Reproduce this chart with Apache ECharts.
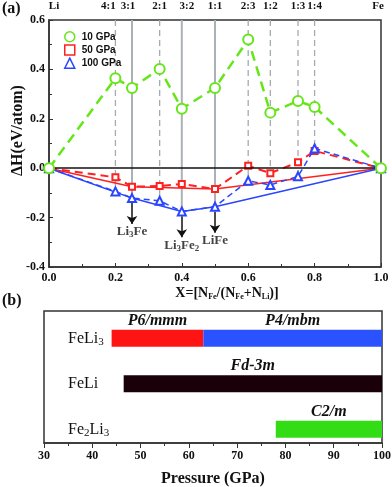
<!DOCTYPE html>
<html><head><meta charset="utf-8">
<script src="https://cdn.jsdelivr.net/npm/echarts@6/dist/echarts.min.js"></script>
<style>html,body{margin:0;padding:0;background:#fff}#c{width:392px;height:487px}</style>
</head><body><div id="c"></div>
<script>
// ---------------- data : panel (a) ----------------
const compX     = [0, 0.2, 0.25, 1/3, 0.4, 0.5, 0.6, 2/3, 0.75, 0.8, 1];
const topLabels = ['Li','4:1','3:1','2:1','3:2','1:1','2:3','1:2','1:3','1:4','Fe'];
const dH10      = [0, 0.364, 0.325, 0.402, 0.241, 0.325, 0.521, 0.225, 0.272, 0.248, 0];
const dH50      = [0, -0.037, -0.075, -0.072, -0.064, -0.084, 0.010, -0.020, 0.024, 0.070, 0];
const dH100     = [0, -0.094, -0.121, -0.132, -0.175, -0.156, -0.051, -0.068, -0.033, 0.080, 0];
const hull50Idx  = [0, 2, 5, 10];
const hull100Idx = [0, 2, 4, 5, 10];
const stableIdx   = [2, 4, 5];
const stableNames = ['Li3Fe', 'Li3Fe2', 'LiFe'];
const pressures   = ['10 GPa', '50 GPa', '100 GPa'];

// ---------------- data : panel (b) ----------------
const compounds = ['FeLi3', 'FeLi', 'Fe2Li3'];
const phaseName = ['P6/mmm', 'P4/mbm', 'Fd-3m', 'C2/m'];
const phaseRow  = [0, 0, 1, 2];
const phaseFrom = [44, 63, 46.5, 78];
const phaseTo   = [63, 100, 100, 100];

// ---------------- styles ----------------
const SERIF = 'Liberation Serif';
const SANS  = 'Liberation Sans';
const GREEN = '#66e61a', RED = '#ff2020', BLUE = '#2a45ff';
const phaseColors = ['#ff1414', '#2a52ff', '#1a0008', '#33dd15'];
const GREY = '#a4acb0', GREY_SOLID = '#aab2b6';

function subRich(str) {
  return str.split(/(\d+)/).filter(Boolean)
    .map(p => /^\d+$/.test(p) ? '{s|' + p + '}' : '{n|' + p + '}').join('');
}
const near = (a, b) => Math.abs(a - b) < 1e-6;
const fmt1 = v => (Math.abs(v) < 1e-9 ? 0 : v).toFixed(1);

// reference lines: [x, top, bottom, solid?]
const solidSet = new Set(stableIdx);
const refData = [];
for (let i = 1; i < compX.length - 1; i++) {
  refData.push([compX[i], 0.6, Math.min(dH50[i], dH100[i]), solidSet.has(i) ? 1 : 0]);
}
const arrows = stableIdx.map(i => [
  { coord: [compX[i], dH100[i] - 0.02] },
  { coord: [compX[i], dH100[i] - 0.105] }
]);

const topStyle = { 0: 'r5', 1: 'l7', 2: 'l4', 4: 'r5', 10: 'l3' };
const lab = (size, weight) => ({ fontFamily: SERIF, fontWeight: weight || 'bold', fontSize: size, color: '#111' });

const option = {
  animation: false,
  textStyle: { fontFamily: SERIF },
  graphic: [
    { type: 'text', left: 2, top: 1, style: { text: '(a)', fontFamily: SERIF, fontWeight: 'bold', fontSize: 16, fill: '#111' } },
    { type: 'text', left: 2, top: 293, style: { text: '(b)', fontFamily: SERIF, fontWeight: 'bold', fontSize: 16, fill: '#111' } }
  ],
  legend: {
    orient: 'vertical', left: 59, top: 26, itemWidth: 10, itemHeight: 10, itemGap: 1.7,
    textStyle: { fontFamily: SANS, fontWeight: 'bold', fontSize: 10, color: '#111', padding: [0, 0, 0, 2] },
    data: [
      { name: pressures[0], icon: 'circle', itemStyle: { color: '#fff', borderColor: GREEN, borderWidth: 1.5 } },
      { name: pressures[1], icon: 'rect', itemStyle: { color: '#fff', borderColor: RED, borderWidth: 1.5 } },
      { name: pressures[2], icon: 'triangle', itemStyle: { color: '#fff', borderColor: BLUE, borderWidth: 1.5 } }
    ],
    selectedMode: false
  },
  grid: [
    { left: 49, right: 11, top: 20, bottom: 220, show: true, borderColor: '#333', borderWidth: 1.5, outerBoundsMode: 'none' },
    { left: 44, right: 10, top: 311, bottom: 44, show: true, borderColor: '#333', borderWidth: 1.5, outerBoundsMode: 'none' }
  ],
  xAxis: [
    {
      type: 'value', gridIndex: 0, min: 0, max: 1, interval: 0.2,
      name: '{b|X=[N}{s|Fe}{b|/(N}{s|Fe}{b|+N}{s|Li}{b|)]}',
      nameLocation: 'middle', nameGap: 18, nameMoveOverlap: false,
      nameTextStyle: {
        padding: [0, 0, 0, 24],
        rich: {
          b: Object.assign(lab(14), { lineHeight: 16, verticalAlign: 'middle' }),
          s: Object.assign(lab(8), { lineHeight: 10, verticalAlign: 'bottom', padding: [8, 0, 0, 0] })
        }
      },
      axisLine: { onZero: false, lineStyle: { color: '#333', width: 1.5 } },
      axisTick: { inside: true, length: 4, lineStyle: { color: '#333' } },
      minorTick: { show: true, splitNumber: 2, length: 3, lineStyle: { color: '#333' } },
      splitLine: { show: false },
      axisLabel: Object.assign(lab(12), { formatter: fmt1, margin: 5 })
    },
    {
      type: 'value', gridIndex: 0, min: 0, max: 1, position: 'top',
      axisLine: { show: false, onZero: false }, axisTick: { show: false }, splitLine: { show: false },
      axisLabel: Object.assign(lab(11), {
        customValues: compX, margin: 8,
        formatter: function (v) {
          const i = compX.findIndex(c => near(c, v));
          if (i < 0) return '';
          const st = topStyle[i] || 'c';
          return '{' + st + '|' + topLabels[i] + '}';
        },
        rich: {
          c: lab(11),
          l7: Object.assign(lab(11), { padding: [0, 14, 0, 0] }),
          l4: Object.assign(lab(11), { padding: [0, 8, 0, 0] }),
          l3: Object.assign(lab(11), { padding: [0, 6, 0, 0] }),
          r5: Object.assign(lab(11), { padding: [0, 0, 0, 10] })
        }
      })
    },
    {
      type: 'value', gridIndex: 1, min: 30, max: 100, interval: 10,
      name: 'Pressure (GPa)', nameLocation: 'middle', nameGap: 28, nameMoveOverlap: false,
      nameTextStyle: lab(16),
      axisLine: { onZero: false, lineStyle: { color: '#333', width: 1.5 } },
      axisTick: { inside: false, length: 5, lineStyle: { color: '#333' } },
      minorTick: { show: true, splitNumber: 2, length: 3, lineStyle: { color: '#333' } },
      splitLine: { show: false },
      axisLabel: Object.assign(lab(12), { margin: 7 })
    }
  ],
  yAxis: [
    {
      type: 'value', gridIndex: 0, min: -0.4, max: 0.6, interval: 0.2,
      name: 'ΔH(eV/atom)', nameLocation: 'middle', nameGap: 23, nameMoveOverlap: false,
      nameTextStyle: Object.assign(lab(16), { padding: [0, 0, 0, 26] }),
      axisLine: { onZero: false, lineStyle: { color: '#333', width: 1.5 } },
      axisTick: { inside: true, length: 4, lineStyle: { color: '#333' } },
      minorTick: { show: true, splitNumber: 2, length: 3, lineStyle: { color: '#333' } },
      splitLine: { show: false },
      axisLabel: Object.assign(lab(12), { formatter: fmt1, margin: 4 })
    },
    {
      type: 'value', gridIndex: 1, min: -0.6, max: 2.3, inverse: true,
      axisLine: { show: false, onZero: false }, axisTick: { show: false }, splitLine: { show: false },
      axisLabel: {
        customValues: [0, 1, 2], inside: true, margin: 24,
        formatter: v => subRich(compounds[Math.round(v)] || ''),
        rich: {
          n: Object.assign(lab(16, 'normal'), { lineHeight: 18, verticalAlign: 'middle' }),
          s: Object.assign(lab(11, 'normal'), { lineHeight: 12, verticalAlign: 'bottom', padding: [9, 0, 0, 0] })
        }
      }
    }
  ],
  series: [
    {
      type: 'custom', xAxisIndex: 0, yAxisIndex: 0, z: 1, silent: true,
      data: refData,
      renderItem: function (params, api) {
        const solid = api.value(3) === 1;
        const p0 = api.coord([api.value(0), api.value(1)]);
        const p1 = api.coord([api.value(0), api.value(2)]);
        return {
          type: 'line',
          shape: { x1: p0[0], y1: p0[1], x2: p1[0], y2: p1[1] },
          style: { stroke: solid ? GREY_SOLID : GREY, lineWidth: solid ? 2 : 1.3, lineDash: solid ? null : [6, 4], fill: null }
        };
      }
    },
    {
      type: 'line', xAxisIndex: 0, yAxisIndex: 0, data: [], z: 2, silent: true,
      markLine: { silent: true, symbol: ['none', 'none'], label: { show: false }, animation: false,
        lineStyle: { color: '#111', width: 1.5, type: 'solid' },
        data: [[{ coord: [0, 0] }, { coord: [1, 0] }]] }
    },
    {
      type: 'line', xAxisIndex: 0, yAxisIndex: 0, data: [], z: 2, silent: true,
      markLine: { silent: true, symbol: ['none', 'arrow'], symbolSize: 8, label: { show: false }, animation: false,
        lineStyle: { color: '#111', width: 1.5, type: 'solid' }, data: arrows }
    },
    {
      type: 'scatter', xAxisIndex: 0, yAxisIndex: 0, symbolSize: 1, itemStyle: { color: 'transparent' }, z: 2, silent: true,
      data: stableIdx.map(i => [compX[i], dH100[i] - 0.137]),
      label: {
        show: true, position: 'inside',
        formatter: p => subRich(stableNames[p.dataIndex]),
        rich: {
          n: Object.assign(lab(13), { lineHeight: 15, verticalAlign: 'middle' }),
          s: Object.assign(lab(9), { lineHeight: 10, verticalAlign: 'bottom', padding: [7, 0, 0, 0] })
        }
      }
    },
    {
      name: 'hull50', type: 'line', xAxisIndex: 0, yAxisIndex: 0, symbol: 'none', z: 3,
      lineStyle: { color: RED, width: 1.5 },
      data: hull50Idx.map(i => [compX[i], dH50[i]])
    },
    {
      name: 'hull100', type: 'line', xAxisIndex: 0, yAxisIndex: 0, symbol: 'none', z: 3,
      lineStyle: { color: BLUE, width: 1.5 },
      data: hull100Idx.map(i => [compX[i], dH100[i]])
    },
    {
      name: pressures[1], type: 'line', xAxisIndex: 0, yAxisIndex: 0, z: 4,
      symbol: 'emptyRect', symbolSize: 6, itemStyle: { color: RED, borderWidth: 1.3 },
      lineStyle: { color: RED, width: 2, type: [8, 5] },
      data: compX.map((x, i) => [x, dH50[i]])
    },
    {
      name: pressures[2], type: 'line', xAxisIndex: 0, yAxisIndex: 0, z: 5,
      symbol: 'emptyTriangle', symbolSize: 8, itemStyle: { color: BLUE, borderWidth: 1.2 },
      lineStyle: { color: BLUE, width: 1.5, type: [6, 4] },
      data: compX.map((x, i) => [x, dH100[i]])
    },
    {
      name: pressures[0], type: 'line', xAxisIndex: 0, yAxisIndex: 0, z: 6,
      symbol: 'emptyCircle', symbolSize: 10, itemStyle: { color: GREEN, borderWidth: 1.5 },
      lineStyle: { color: GREEN, width: 2.5, type: [10, 6] },
      data: compX.map((x, i) => [x, dH10[i]])
    },
    {
      type: 'custom', xAxisIndex: 2, yAxisIndex: 1, silent: true,
      encode: { x: [0, 1], y: 2 },
      data: phaseFrom.map((f, i) => [f, phaseTo[i], phaseRow[i]]),
      renderItem: function (params, api) {
        const i = params.dataIndex;
        const from = api.value(0), to = api.value(1), row = api.value(2);
        const p0 = api.coord([from, row]), p1 = api.coord([to, row]);
        const mid = api.coord([(from + to) / 2, row]);
        const h = 17;
        return {
          type: 'group', children: [
            { type: 'rect', shape: { x: p0[0], y: p0[1] - h / 2, width: p1[0] - p0[0], height: h }, style: { fill: phaseColors[i] } },
            { type: 'text', style: { text: phaseName[i], x: mid[0], y: p0[1] - h / 2 - 1, align: 'center', verticalAlign: 'bottom',
              fontFamily: SERIF, fontStyle: 'italic', fontWeight: 'bold', fontSize: 16, fill: '#111' } }
          ]
        };
      }
    }
  ]
};
const chart = echarts.init(document.getElementById('c'), null, { renderer: 'canvas' });
chart.setOption(option);
</script>
</body></html>
